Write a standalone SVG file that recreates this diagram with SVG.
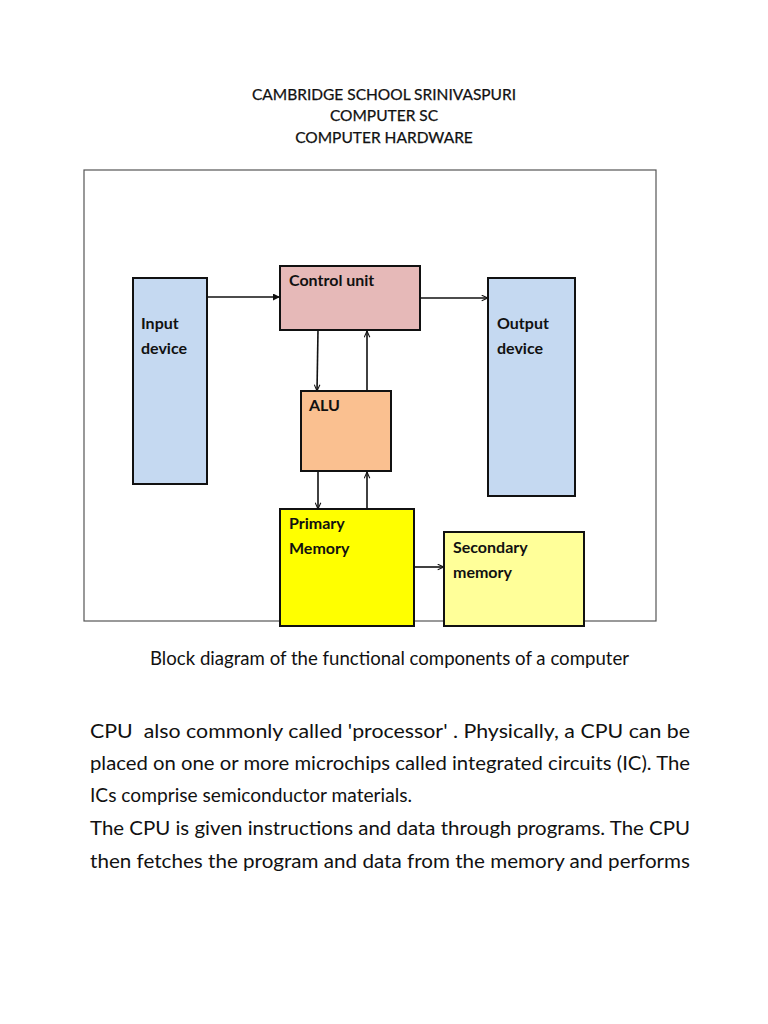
<svg xmlns="http://www.w3.org/2000/svg" width="768" height="1024" viewBox="0 0 768 1024">
<style>
.t{font-family:Lato,"Open Sans",sans-serif;font-size:15.5px;fill:#111;text-anchor:middle;stroke:#111;stroke-width:0.25}
.lb{font-family:Lato,"Open Sans",sans-serif;font-size:16px;font-weight:bold;fill:#111}
.box{stroke:#111;stroke-width:2}
.c{stroke:#111;stroke-width:1.6;fill:none}
.body{font-family:Lato,"Noto Sans",sans-serif;font-size:18.5px;fill:#111}
</style>
<defs>
<marker id="fa" viewBox="0 0 10 10" refX="10" refY="5" markerWidth="7" markerHeight="7" markerUnits="userSpaceOnUse" orient="auto"><path d="M0,0L10,5L0,10Z" fill="#111"/></marker>
<marker id="oa" viewBox="0 0 10 10" refX="10" refY="5" markerWidth="7" markerHeight="7" markerUnits="userSpaceOnUse" orient="auto"><path d="M1,1L10,5L1,9" fill="none" stroke="#111" stroke-width="1.5"/></marker>
</defs>
<rect width="768" height="1024" fill="#fff"/>
<g id="title">
<text class="t" x="384" y="100">CAMBRIDGE SCHOOL SRINIVASPURI</text>
<text class="t" x="384" y="121">COMPUTER SC</text>
<text class="t" x="384" y="143">COMPUTER HARDWARE</text>
</g>
<rect id="frame" x="84" y="170" width="572" height="451" fill="none" stroke="#555" stroke-width="1.2"/>
<g id="connectors">
<line class="c" x1="207" y1="297" x2="280" y2="297" marker-end="url(#fa)"/>
<line class="c" x1="420" y1="298" x2="488" y2="298" marker-end="url(#oa)"/>
<line class="c" x1="318" y1="330" x2="317" y2="391" marker-end="url(#oa)"/>
<line class="c" x1="367" y1="391" x2="367" y2="331" marker-end="url(#oa)"/>
<line class="c" x1="318" y1="471" x2="318" y2="509" marker-end="url(#oa)"/>
<line class="c" x1="367" y1="509" x2="367" y2="472" marker-end="url(#oa)"/>
<line class="c" x1="414" y1="567" x2="444" y2="567" marker-end="url(#oa)"/>
</g>
<g id="input">
<rect class="box" x="133" y="278" width="74" height="206" fill="#c5d9f1"/>
<text class="lb" x="141" y="329">Input</text>
<text class="lb" x="141" y="354">device</text>
</g>
<g id="control">
<rect class="box" x="280" y="266" width="140" height="64" fill="#e6b9b8"/>
<text class="lb" x="289" y="286">Control unit</text>
</g>
<g id="output">
<rect class="box" x="488" y="278" width="87" height="218" fill="#c5d9f1"/>
<text class="lb" x="497" y="329">Output</text>
<text class="lb" x="497" y="354">device</text>
</g>
<g id="alu">
<rect class="box" x="301" y="391" width="90" height="80" fill="#fac090"/>
<text class="lb" x="309" y="411">ALU</text>
</g>
<g id="primary">
<rect class="box" x="280" y="509" width="134" height="117" fill="#ffff00"/>
<text class="lb" x="289" y="529">Primary</text>
<text class="lb" x="289" y="554">Memory</text>
</g>
<g id="secondary">
<rect class="box" x="444" y="532" width="140" height="94" fill="#ffff99"/>
<text class="lb" x="453" y="553">Secondary</text>
<text class="lb" x="453" y="578">memory</text>
</g>
<g id="text">
<text class="body" x="150" y="665" textLength="479" lengthAdjust="spacingAndGlyphs">Block diagram of the functional components of a computer</text>
<text class="body" x="90" y="738" textLength="600" lengthAdjust="spacingAndGlyphs" xml:space="preserve">CPU  also commonly called 'processor' . Physically, a CPU can be</text>
<text class="body" x="90" y="770" textLength="600" lengthAdjust="spacingAndGlyphs">placed on one or more microchips called integrated circuits (IC). The</text>
<text class="body" x="90" y="802" textLength="322" lengthAdjust="spacingAndGlyphs">ICs comprise semiconductor materials.</text>
<text class="body" x="90" y="835" textLength="600" lengthAdjust="spacingAndGlyphs">The CPU is given instructions and data through programs. The CPU</text>
<text class="body" x="90" y="868" textLength="600" lengthAdjust="spacingAndGlyphs">then fetches the program and data from the memory and performs</text>
</g>
</svg>
